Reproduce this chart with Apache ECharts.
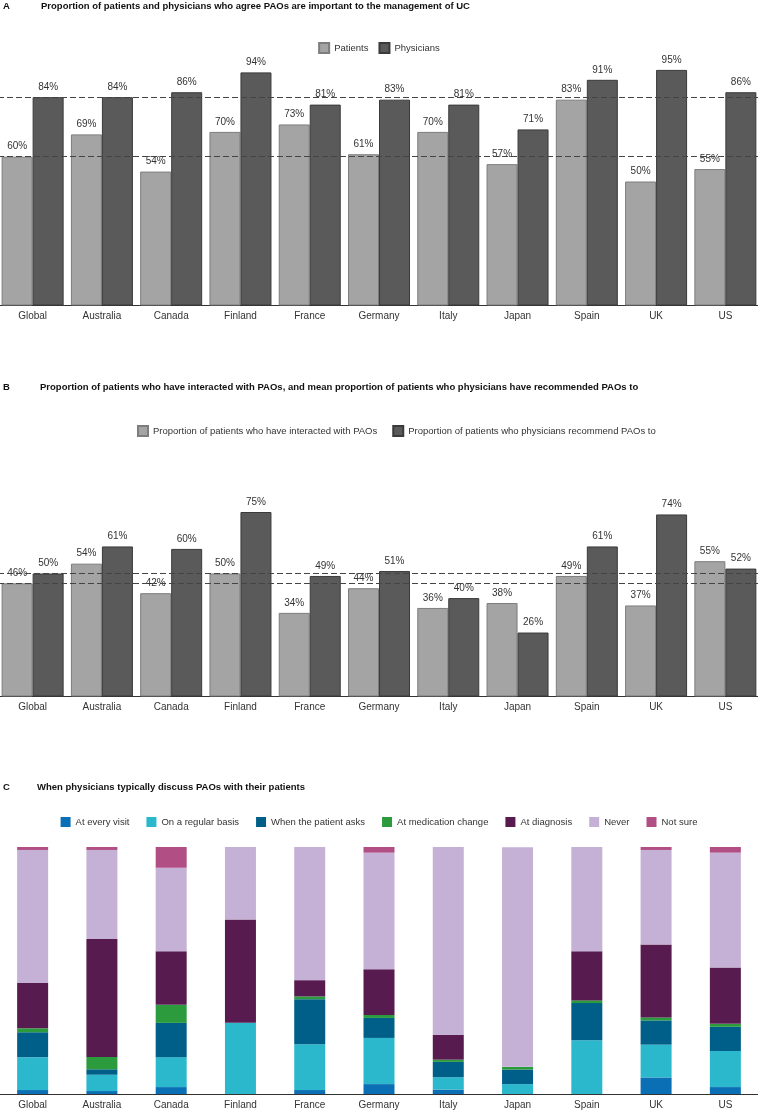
<!DOCTYPE html>
<html>
<head>
<meta charset="utf-8">
<script src="https://cdn.jsdelivr.net/npm/echarts@6/dist/echarts.min.js"></script>
<style>
html,body{margin:0;padding:0;background:#fff;}
#chart{width:758px;height:1112px;}
</style>
</head>
<body>
<div id="chart"></div>
<script>
var categories = ['Global','Australia','Canada','Finland','France','Germany','Italy','Japan','Spain','UK','US'];

// Panel A
var aPatients   = [60,69,54,70,73,61,70,57,83,50,55];
var aPhysicians = [84,84,86,94,81,83,81,71,91,95,86];

// Panel B
var bInteracted = [46,54,42,50,34,44,36,38,49,37,55];
var bRecommend  = [50,61,60,75,49,51,40,26,61,74,52];

// Panel C (percent of physicians)
var cEveryVisit = [1.6,1.2,2.8,0,1.6,4.0,1.8,0,0,6.7,2.8];
var cRegular    = [13.3,6.6,12.1,28.8,18.5,18.7,5.0,4.0,21.8,13.3,14.6];
var cAsks       = [10.1,2.2,13.9,0,18.3,8.1,6.2,5.9,15.0,9.8,9.8];
var cMedChange  = [1.6,5.0,7.3,0,1.1,1.2,0.9,1.1,1.1,1.2,1.2];
var cDiagnosis  = [18.3,47.8,21.7,41.8,6.6,18.5,10.1,0,19.9,29.5,22.8];
var cNever      = [53.9,36.0,33.8,29.4,53.9,47.2,76.0,88.9,42.2,38.3,46.5];
var cNotSure    = [1.2,1.2,8.4,0,0,2.3,0,0,0,1.2,2.3];

var aNames = ['Patients','Physicians'];
var bNames = ['Proportion of patients who have interacted with PAOs','Proportion of patients who physicians recommend PAOs to'];
var cNames = ['At every visit','On a regular basis','When the patient asks','At medication change','At diagnosis','Never','Not sure'];
var cColors = ['#0a6fb5','#2cb8cc','#005f88','#2b9b3d','#571b4f','#c6b1d6','#b14f84'];

var FONT = 'Liberation Sans, Arial, sans-serif';
var chart = echarts.init(document.getElementById('chart'), null, {renderer:'canvas'});

var gridLeft = -2, gridWidth = 762;

function xAx(gi){
  return {type:'category', gridIndex:gi, data:categories,
    axisLine:{show:true, lineStyle:{color:'#333', width:1}},
    axisTick:{show:false},
    axisLabel:{color:'#333', fontSize:10, fontFamily:FONT, margin:6}};
}
function yAx(gi){
  return {type:'value', gridIndex:gi, min:0, max:100, show:false, splitLine:{show:false}};
}
function dashed(vals){
  return {silent:true, symbol:['none','none'], label:{show:false},
    lineStyle:{type:[6,3], color:'#444', width:1},
    data: vals.map(function(v){return {yAxis:v};})};
}
function barLabel(){
  return {show:true, position:'top', distance:5, color:'#333', fontSize:10, fontFamily:FONT,
    formatter:function(p){return p.value+'%';}};
}

var series = [
  {name:aNames[0], type:'bar', xAxisIndex:0, yAxisIndex:0, data:aPatients, barWidth:31, barGap:'0%',
   itemStyle:{color:'#a4a4a4', borderColor:'#7d7d7d', borderWidth:1}, label:barLabel()},
  {name:aNames[1], type:'bar', xAxisIndex:0, yAxisIndex:0, data:aPhysicians, barWidth:31, barGap:'0%',
   itemStyle:{color:'#5a5a5a', borderColor:'#3a3a3a', borderWidth:1}, label:barLabel(),
   markLine:dashed([aPatients[0], aPhysicians[0]])},
  {name:bNames[0], type:'bar', xAxisIndex:1, yAxisIndex:1, data:bInteracted, barWidth:31, barGap:'0%',
   itemStyle:{color:'#a4a4a4', borderColor:'#7d7d7d', borderWidth:1}, label:barLabel()},
  {name:bNames[1], type:'bar', xAxisIndex:1, yAxisIndex:1, data:bRecommend, barWidth:31, barGap:'0%',
   itemStyle:{color:'#5a5a5a', borderColor:'#3a3a3a', borderWidth:1}, label:barLabel(),
   markLine:dashed([bInteracted[0], bRecommend[0]])}
];
var cData = [cEveryVisit,cRegular,cAsks,cMedChange,cDiagnosis,cNever,cNotSure];
cNames.forEach(function(n,i){
  series.push({name:n, type:'bar', stack:'c', xAxisIndex:2, yAxisIndex:2, data:cData[i], barWidth:31,
    itemStyle:{color:cColors[i]}});
});

function legend(names, top, left, gap){
  return {data:names, top:top, left:left, itemWidth:10, itemHeight:10, itemGap:gap, padding:0,
    icon:'rect', textStyle:{color:'#333', fontSize:9.5, fontFamily:FONT}, selectedMode:false};
}
function titleItem(letter, text, top, textLeft){
  return [
    {text:letter, left:3, top:top, padding:0, textStyle:{fontSize:9.5, fontWeight:'bold', color:'#111', fontFamily:FONT}},
    {text:text, left:textLeft, top:top, padding:0, textStyle:{fontSize:9.5, fontWeight:'bold', color:'#111', fontFamily:FONT}}
  ];
}
function grid(top, height){
  return {left:gridLeft, width:gridWidth, top:top, height:height, containLabel:false, outerBoundsMode:'none'};
}

var option = {
  animation:false,
  backgroundColor:'#fff',
  color:['#a4a4a4','#5a5a5a'],
  title: [].concat(
    titleItem('A','Proportion of patients and physicians who agree PAOs are important to the management of UC',1,41),
    titleItem('B','Proportion of patients who have interacted with PAOs, and mean proportion of patients who physicians have recommended PAOs to',382,40),
    titleItem('C','When physicians typically discuss PAOs with their patients',782,37)
  ),
  legend:[
    legend(aNames, 42, 'center', 10),
    legend(bNames, 425, 137, 15),
    legend(cNames, 817, 'center', 17)
  ],
  grid:[grid(57.5,248), grid(450.5,246), grid(847,247)],
  xAxis:[xAx(0), xAx(1), xAx(2)],
  yAxis:[yAx(0), yAx(1), yAx(2)],
  series:series
};
chart.setOption(option);
</script>
</body>
</html>
